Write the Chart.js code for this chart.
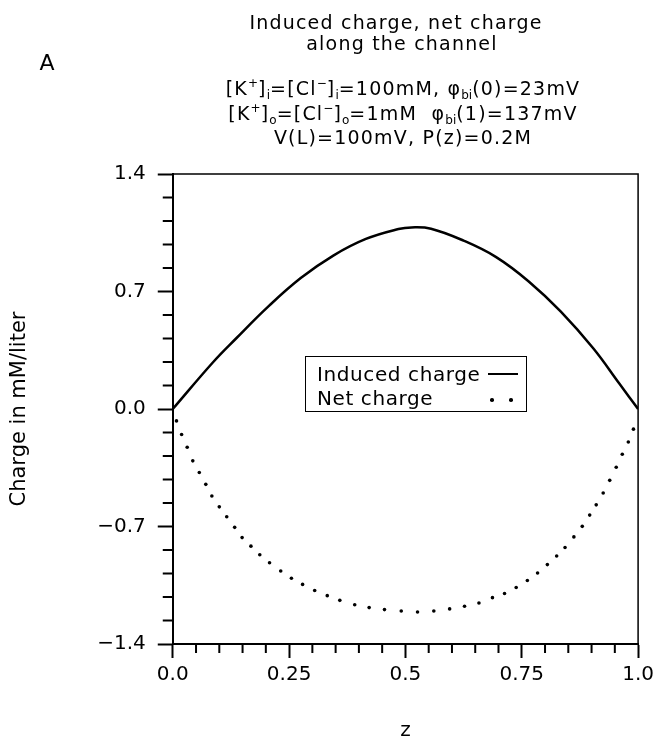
<!DOCTYPE html>
<html>
<head>
<meta charset="utf-8">
<script src="https://cdn.jsdelivr.net/npm/chart.js@4.4.0/dist/chart.umd.min.js"></script>
<style>
  body { margin: 0; background: #fff; }
  #wrap { position: relative; width: 659px; height: 743px; font-family: 'DejaVu Sans', sans-serif; color: #000; }
  #myChart { position: absolute; left: 0; top: 0; }
  .t { position: absolute; white-space: nowrap; transform: translate(-50%, -50%); font-size: 19px; letter-spacing: 1.2px; line-height: 1; }
  .t sub, .t sup { font-size: 12px; line-height: 0; letter-spacing: 0; }
  #panel { position: absolute; left: 47px; top: 62px; font-size: 22px; transform: translate(-50%, -50%); }
  #legend { position: absolute; left: 305px; top: 356px; width: 222px; height: 56px; box-sizing: border-box; border: 1.5px solid #000; font-size: 20px; letter-spacing: 0.6px; }
  .row { position: absolute; left: 11px; height: 24px; line-height: 24px; white-space: nowrap; }
  .sample { position: absolute; left: 182px; width: 30px; height: 24px; }
  .sample .ln { position: absolute; left: 0; right: 0; top: 11px; border-top: 2.5px solid #000; }
  .sample .dot { position: absolute; top: 12px; width: 3.5px; height: 3.5px; border-radius: 50%; background: #000; }
</style>
</head>
<body>
<div id="wrap">
  <canvas id="myChart" width="659" height="743"></canvas>
  <div id="panel">A</div>
  <div class="t" style="left:396px; top:22px;">Induced charge, net charge</div>
  <div class="t" style="left:402px; top:43px;">along the channel</div>
  <div class="t" style="left:403px; top:88px;">[K<sup>+</sup>]<sub>i</sub>=[Cl<sup>−</sup>]<sub>i</sub>=100mM, φ<sub>bi</sub>(0)=23mV</div>
  <div class="t" style="left:403px; top:113px;">[K<sup>+</sup>]<sub>o</sub>=[Cl<sup>−</sup>]<sub>o</sub>=1mM&nbsp; φ<sub>bi</sub>(1)=137mV</div>
  <div class="t" style="left:403px; top:137px;">V(L)=100mV, P(z)=0.2M</div>
  <div id="legend"></div>
</div>
<script>
// induced charge, solid curve
const zInduced = [0, 0.087, 0.136, 0.205, 0.275, 0.345, 0.415, 0.485, 0.513, 0.555, 0.625, 0.695, 0.765, 0.834, 0.904, 0.96, 1.0];
const induced = [0, 0.28, 0.42, 0.61, 0.78, 0.914, 1.013, 1.072, 1.082, 1.074, 1.003, 0.905, 0.76, 0.58, 0.36, 0.15, 0];

// net charge, dotted
const zNet = [0.008, 0.019, 0.031, 0.043, 0.057, 0.071, 0.084, 0.100, 0.116, 0.133,
              0.149, 0.168, 0.187, 0.208, 0.232, 0.255, 0.279, 0.305, 0.332, 0.359,
              0.391, 0.422, 0.455, 0.491, 0.526, 0.561, 0.595, 0.627, 0.658, 0.687,
              0.713, 0.738, 0.762, 0.784, 0.805, 0.825, 0.843, 0.862, 0.880, 0.896,
              0.910, 0.925, 0.939, 0.953, 0.966, 0.979, 0.990];
const net = [-0.071, -0.152, -0.228, -0.309, -0.378, -0.449, -0.518, -0.583, -0.642, -0.705,
             -0.766, -0.817, -0.868, -0.916, -0.965, -1.008, -1.045, -1.081, -1.112, -1.140,
             -1.166, -1.183, -1.195, -1.203, -1.209, -1.203, -1.191, -1.175, -1.156, -1.124,
             -1.099, -1.063, -1.022, -0.977, -0.927, -0.876, -0.825, -0.762, -0.699, -0.632,
             -0.571, -0.500, -0.425, -0.347, -0.270, -0.197, -0.120];

const xTickValues = [0, 0.25, 0.5, 0.75, 1.0];
const xTickLabels = ['0.0', '0.25', '0.5', '0.75', '1.0'];
const yTickValues = [-1.4, -0.7, 0, 0.7, 1.4];
const yTickLabels = ['−1.4', '−0.7', '0.0', '0.7', '1.4'];

const FONT = 'DejaVu Sans';

// top/right frame plus the short minor ticks
const frameAndMinorTicks = {
    id: 'frameAndMinorTicks',
    afterDraw: function (chart) {
        const ctx = chart.ctx;
        const a = chart.chartArea;
        const x = chart.scales.x;
        const y = chart.scales.y;
        ctx.save();
        ctx.strokeStyle = '#000';
        ctx.lineWidth = 1.5;
        ctx.beginPath();
        ctx.moveTo(a.left, a.top);
        ctx.lineTo(a.right, a.top);
        ctx.lineTo(a.right, a.bottom);
        ctx.stroke();

        ctx.lineWidth = 2;
        ctx.beginPath();
        for (let i = 1; i < 20; i++) {
            if (i % 5 === 0) continue;
            const px = x.getPixelForValue(i * 0.05);
            ctx.moveTo(px, a.bottom);
            ctx.lineTo(px, a.bottom + 9);
        }
        for (let i = 1; i < 20; i++) {
            if (i % 5 === 0) continue;
            const py = y.getPixelForValue(-1.4 + i * 0.14);
            ctx.moveTo(a.left - 10, py);
            ctx.lineTo(a.left, py);
        }
        ctx.stroke();
        ctx.restore();
    }
};

const ctx = document.getElementById('myChart').getContext('2d');

const myChart = new Chart(ctx, {
    type: 'line',
    data: {
        datasets: [{
            label: 'Induced charge',
            data: zInduced.map(function (z, i) { return { x: z, y: induced[i] }; }),
            borderColor: '#000',
            borderWidth: 2.5,
            pointRadius: 0,
            tension: 0.4,
            fill: false
        }, {
            label: 'Net charge',
            data: zNet.map(function (z, i) { return { x: z, y: net[i] }; }),
            showLine: false,
            pointRadius: 1.8,
            pointBorderWidth: 0,
            pointBackgroundColor: '#000',
            borderColor: '#000'
        }]
    },
    options: {
        responsive: false,
        animation: false,
        devicePixelRatio: 1,
        layout: {
            padding: { top: 174, left: 4, right: 20, bottom: 0 }
        },
        scales: {
            x: {
                type: 'linear',
                min: 0,
                max: 1,
                border: { color: '#000', width: 2 },
                grid: { drawOnChartArea: false, tickLength: 14, tickWidth: 2, tickColor: '#000' },
                afterBuildTicks: function (axis) {
                    axis.ticks = xTickValues.map(function (v) { return { value: v }; });
                },
                ticks: {
                    color: '#000',
                    padding: 5,
                    maxRotation: 0,
                    autoSkip: false,
                    font: { family: FONT, size: 20 },
                    callback: function (value) {
                        const i = xTickValues.indexOf(value);
                        return i >= 0 ? xTickLabels[i] : '';
                    }
                },
                title: {
                    display: true,
                    text: 'z',
                    color: '#000',
                    font: { family: FONT, size: 20 },
                    padding: { top: 27, bottom: 0 }
                }
            },
            y: {
                min: -1.4,
                max: 1.4,
                border: { color: '#000', width: 2 },
                grid: { drawOnChartArea: false, tickLength: 15, tickWidth: 2, tickColor: '#000' },
                afterBuildTicks: function (axis) {
                    axis.ticks = yTickValues.map(function (v) { return { value: v }; });
                },
                ticks: {
                    color: '#000',
                    padding: 12,
                    font: { family: FONT, size: 20 },
                    callback: function (value) {
                        const i = yTickValues.indexOf(value);
                        return i >= 0 ? yTickLabels[i] : '';
                    }
                },
                title: {
                    display: true,
                    text: 'Charge in mM/liter',
                    color: '#000',
                    font: { family: FONT, size: 21 },
                    padding: { top: 3, bottom: 53 }
                }
            }
        },
        plugins: {
            legend: { display: false },
            tooltip: { enabled: false }
        }
    },
    plugins: [frameAndMinorTicks]
});

// boxed legend inside the plot, built from the datasets
const legendEl = document.getElementById('legend');
myChart.data.datasets.forEach(function (ds, i) {
    const row = document.createElement('div');
    row.className = 'row';
    row.style.top = (5 + i * 24) + 'px';
    row.textContent = ds.label;
    const sample = document.createElement('div');
    sample.className = 'sample';
    sample.style.top = (5 + i * 24) + 'px';
    if (ds.showLine === false) {
        [2, 21].forEach(function (left) {
            const d = document.createElement('div');
            d.className = 'dot';
            d.style.left = left + 'px';
            sample.appendChild(d);
        });
    } else {
        const ln = document.createElement('div');
        ln.className = 'ln';
        sample.appendChild(ln);
    }
    legendEl.appendChild(row);
    legendEl.appendChild(sample);
});
</script>
</body>
</html>
